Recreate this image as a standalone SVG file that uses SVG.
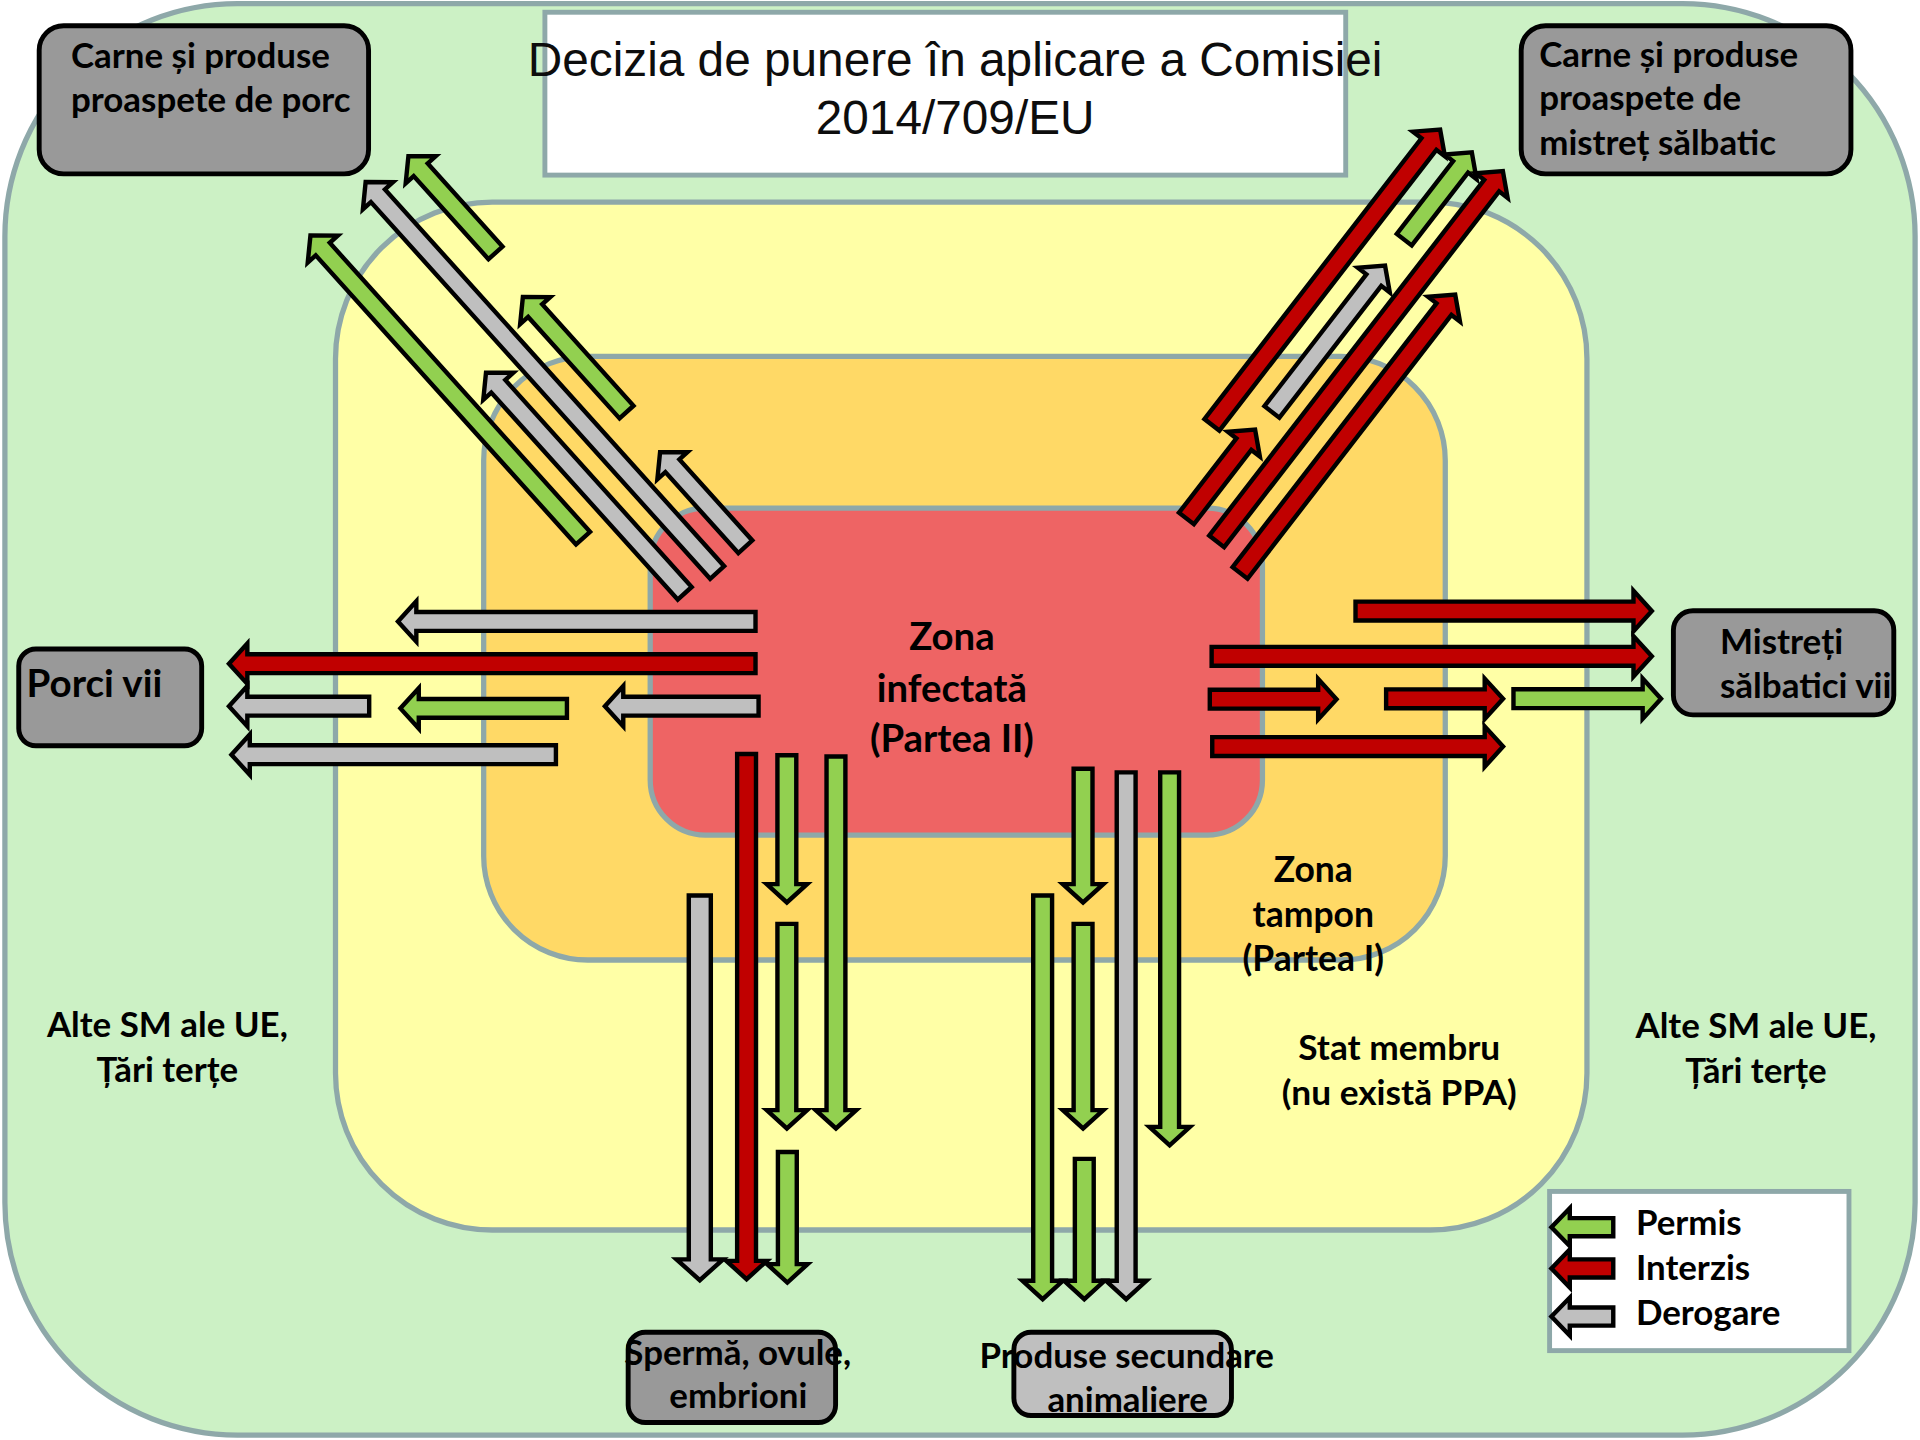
<svg xmlns="http://www.w3.org/2000/svg" width="1920" height="1440" viewBox="0 0 1920 1440">
<style>
.zone{stroke:#8EA8A9;stroke-width:4.3}
.arr{stroke:#000;stroke-width:3.6;stroke-linejoin:miter;stroke-miterlimit:10}
.g{fill:#92D050}.r{fill:#C00000}.y{fill:#BFBFBF}
.node{stroke:#000;stroke-width:4}
.lbl{font-family:Lato,"Liberation Sans",sans-serif;font-weight:bold;fill:#000}
.title{font-family:"Liberation Sans",Arial,sans-serif;font-size:39px;fill:#0D0D0D;text-anchor:middle}
</style>
<rect width="1920" height="1440" fill="#FFFFFF"/>
<g transform="scale(1.2244898)">
<g id="zone-other">
<rect class="zone" x="4" y="3" width="1560" height="1169" rx="190" fill="#CCF1C5"/>
<text class="lbl" font-size="28.5" text-anchor="middle"><tspan x="136.7" y="846.6">Alte SM ale UE,</tspan><tspan x="136.7" y="883.4">Țări terțe</tspan></text>
<text class="lbl" font-size="28.5" text-anchor="middle"><tspan x="1434" y="848">Alte SM ale UE,</tspan><tspan x="1434" y="884.7">Țări terțe</tspan></text>
</g>
<g id="title">
<rect x="445" y="10" width="654" height="133" fill="#FFFFFF" stroke="#8EA8A9" stroke-width="4"/>
<text class="title"><tspan x="780" y="62">Decizia de punere în aplicare a Comisiei</tspan><tspan x="780" y="109.4">2014/709/EU</tspan></text>
</g>
<g id="zone-member">
<rect class="zone" x="274" y="165" width="1022" height="839.5" rx="128" fill="#FFFFA6"/>
<text class="lbl" font-size="28.8" text-anchor="middle"><tspan x="1142.7" y="865.7">Stat membru</tspan><tspan x="1142.7" y="902.4">(nu există PPA)</tspan></text>
</g>
<g id="zone-buffer">
<rect class="zone" x="395" y="291" width="785.3" height="493" rx="85" fill="#FFD966"/>
<text class="lbl" font-size="29" text-anchor="middle"><tspan x="1072.5" y="720">Zona</tspan><tspan x="1072.5" y="756.8">tampon</tspan><tspan x="1072.5" y="793">(Partea I)</tspan></text>
</g>
<g id="zone-infected">
<rect class="zone" x="531" y="415" width="500" height="267" rx="45" fill="#EE6464"/>
<text class="lbl" font-size="31.3" text-anchor="middle"><tspan x="777.4" y="530.8">Zona</tspan><tspan x="777.4" y="573">infectată</tspan><tspan x="777.4" y="613.8">(Partea II)</tspan></text>
</g>
<g id="connectors">
<polygon class="arr g" transform="translate(477.5,441) rotate(-132)" points="2,-7.7 319.7,-7.7 319.7,-16.5 334.7,0 319.7,16.5 319.7,7.7 2,7.7"/>
<polygon class="arr g" transform="translate(406,208) rotate(-132)" points="2,-7.7 93.3,-7.7 93.3,-16.5 108.3,0 93.3,16.5 93.3,7.7 2,7.7"/>
<polygon class="arr g" transform="translate(513,338) rotate(-132)" points="2,-7.7 113.5,-7.7 113.5,-16.5 128.5,0 113.5,16.5 113.5,7.7 2,7.7"/>
<polygon class="arr y" transform="translate(587,469) rotate(-132)" points="2,-7.7 416,-7.7 416,-16.5 431,0 416,16.5 416,7.7 2,7.7"/>
<polygon class="arr y" transform="translate(560.5,486) rotate(-132)" points="2,-7.7 229.5,-7.7 229.5,-16.5 244.5,0 229.5,16.5 229.5,7.7 2,7.7"/>
<polygon class="arr y" transform="translate(610,448) rotate(-132)" points="2,-7.7 91,-7.7 91,-16.5 106,0 91,16.5 91,7.7 2,7.7"/>
<polygon class="arr r" transform="translate(988.5,348.5) rotate(-52.3)" points="2,-7.7 291.8,-7.7 291.8,-16.5 306.8,0 291.8,16.5 291.8,7.7 2,7.7"/>
<polygon class="arr g" transform="translate(1145.6,197.3) rotate(-52.3)" points="2,-7.7 77.2,-7.7 77.2,-16.5 92.2,0 77.2,16.5 77.2,7.7 2,7.7"/>
<polygon class="arr r" transform="translate(992.4,443.7) rotate(-52.3)" points="2,-7.7 369.2,-7.7 369.2,-16.5 384.2,0 369.2,16.5 369.2,7.7 2,7.7"/>
<polygon class="arr y" transform="translate(1037.5,338) rotate(-52.3)" points="2,-7.7 138.1,-7.7 138.1,-16.5 153.1,0 138.1,16.5 138.1,7.7 2,7.7"/>
<polygon class="arr r" transform="translate(1011.5,469.5) rotate(-52.3)" points="2,-7.7 274.3,-7.7 274.3,-16.5 289.3,0 274.3,16.5 274.3,7.7 2,7.7"/>
<polygon class="arr r" transform="translate(967.7,425) rotate(-52.3)" points="2,-7.7 78.7,-7.7 78.7,-16.5 93.7,0 78.7,16.5 78.7,7.7 2,7.7"/>
<polygon class="arr y" points="617,499.8 340,499.8 340,491 325,507.5 340,524 340,515.2 617,515.2"/>
<polygon class="arr r" points="617,534.3 202,534.3 202,525.5 187,542 202,558.5 202,549.7 617,549.7"/>
<polygon class="arr y" points="301.5,569 202,569 202,560.2 187,576.7 202,593.2 202,584.4 301.5,584.4"/>
<polygon class="arr g" points="463,570.8 342,570.8 342,562 327,578.5 342,595 342,586.2 463,586.2"/>
<polygon class="arr y" points="619.5,569 509,569 509,560.2 494,576.7 509,593.2 509,584.4 619.5,584.4"/>
<polygon class="arr y" points="454,608.6 204,608.6 204,599.8 189,616.3 204,632.8 204,624 454,624"/>
<polygon class="arr r" points="1107,491.3 1334,491.3 1334,482.5 1349,499 1334,515.5 1334,506.7 1107,506.7"/>
<polygon class="arr r" points="989.5,528.3 1334,528.3 1334,519.5 1349,536 1334,552.5 1334,543.7 989.5,543.7"/>
<polygon class="arr r" points="988,563.3 1076.5,563.3 1076.5,554.5 1091.5,571 1076.5,587.5 1076.5,578.7 988,578.7"/>
<polygon class="arr r" points="1132,563 1212.5,563 1212.5,554.2 1227.5,570.7 1212.5,587.2 1212.5,578.4 1132,578.4"/>
<polygon class="arr g" points="1236,562.9 1341.5,562.9 1341.5,554.1 1356.5,570.6 1341.5,587.1 1341.5,578.3 1236,578.3"/>
<polygon class="arr r" points="990,602 1212.5,602 1212.5,593.2 1227.5,609.7 1212.5,626.2 1212.5,617.4 990,617.4"/>
<polygon class="arr y" points="562.5,731.3 580.5,731.3 580.5,1028.5 590.5,1028.5 571.5,1045.5 552.5,1028.5 562.5,1028.5"/>
<polygon class="arr r" points="602,615.8 617.4,615.8 617.4,1029.7 626.2,1029.7 609.7,1044.7 593.2,1029.7 602,1029.7"/>
<polygon class="arr g" points="634.9,616.8 650.3,616.8 650.3,722 659.1,722 642.6,737 626.1,722 634.9,722"/>
<polygon class="arr g" points="634.9,754.5 650.3,754.5 650.3,906.6 659.1,906.6 642.6,921.6 626.1,906.6 634.9,906.6"/>
<polygon class="arr g" points="635.3,940.8 650.7,940.8 650.7,1032.4 659.5,1032.4 643,1047.4 626.5,1032.4 635.3,1032.4"/>
<polygon class="arr g" points="675,617.8 690.4,617.8 690.4,906.6 699.2,906.6 682.7,921.6 666.2,906.6 675,906.6"/>
<polygon class="arr g" points="843.8,731.3 859.2,731.3 859.2,1046 868,1046 851.5,1061 835,1046 843.8,1046"/>
<polygon class="arr g" points="876.8,627.8 892.2,627.8 892.2,722 901,722 884.5,737 868,722 876.8,722"/>
<polygon class="arr g" points="876.8,754.5 892.2,754.5 892.2,906.6 901,906.6 884.5,921.6 868,906.6 876.8,906.6"/>
<polygon class="arr g" points="877.8,946.4 893.2,946.4 893.2,1046 902,1046 885.5,1061 869,1046 877.8,1046"/>
<polygon class="arr y" points="912,630.8 927.4,630.8 927.4,1046 936.2,1046 919.7,1061 903.2,1046 912,1046"/>
<polygon class="arr g" points="947.5,630.8 962.9,630.8 962.9,920.3 971.7,920.3 955.2,935.3 938.7,920.3 947.5,920.3"/>
</g>
<g id="node-carne-porc">
<rect class="node" x="32" y="21" width="269" height="121" rx="20" fill="#999999"/>
<text class="lbl" font-size="28.5"><tspan x="58" y="55.8">Carne și produse</tspan><tspan x="58" y="91.2">proaspete de porc</tspan></text>
</g>
<g id="node-carne-mistret">
<rect class="node" x="1242.3" y="21" width="269.3" height="121" rx="20" fill="#999999"/>
<text class="lbl" font-size="28.5"><tspan x="1257" y="54.4">Carne și produse</tspan><tspan x="1257" y="89.8">proaspete de</tspan><tspan x="1257" y="126.6">mistreț sălbatic</tspan></text>
</g>
<g id="node-porci-vii">
<rect class="node" x="15.3" y="530" width="149.4" height="79" rx="14" fill="#999999"/>
<text class="lbl" font-size="31.5" x="21.7" y="569">Porci vii</text>
</g>
<g id="node-mistreti-vii">
<rect class="node" x="1366.6" y="498.8" width="180" height="85" rx="16" fill="#999999"/>
<text class="lbl" font-size="28.6"><tspan x="1404.6" y="534">Mistreți</tspan><tspan x="1404.6" y="570.3">sălbatici vii</tspan></text>
</g>
<g id="node-sperma">
<rect class="node" x="513" y="1088" width="169.4" height="73.7" rx="14" fill="#999999"/>
<text class="lbl" font-size="28.5" text-anchor="middle"><tspan x="602.5" y="1115">Spermă, ovule,</tspan><tspan x="603" y="1149.5">embrioni</tspan></text>
</g>
<g id="node-produse">
<rect class="node" x="828" y="1088" width="177.7" height="68" rx="14" fill="#BFBFBF"/>
<text class="lbl" font-size="28.5" text-anchor="middle"><tspan x="920.2" y="1117.5">Produse secundare</tspan><tspan x="920.9" y="1153">animaliere</tspan></text>
</g>
<g id="legend">
<rect x="1265.5" y="973" width="244.5" height="130" fill="#FFFFFF" stroke="#8EA8A9" stroke-width="4"/>
<polygon class="arr g" points="1317.5,994.8 1282,994.8 1282,986.7 1267,1002.2 1282,1017.7 1282,1009.6 1317.5,1009.6"/>
<polygon class="arr r" points="1317.5,1028.5 1282,1028.5 1282,1020.4 1267,1035.9 1282,1051.4 1282,1043.3 1317.5,1043.3"/>
<polygon class="arr y" points="1317.5,1067.8 1282,1067.8 1282,1059.7 1267,1075.2 1282,1090.7 1282,1082.6 1317.5,1082.6"/>
<text class="lbl" font-size="28.5"><tspan x="1336" y="1008.6">Permis</tspan><tspan x="1336" y="1045.3">Interzis</tspan><tspan x="1336" y="1082">Derogare</tspan></text>
</g>
</g>
</svg>
